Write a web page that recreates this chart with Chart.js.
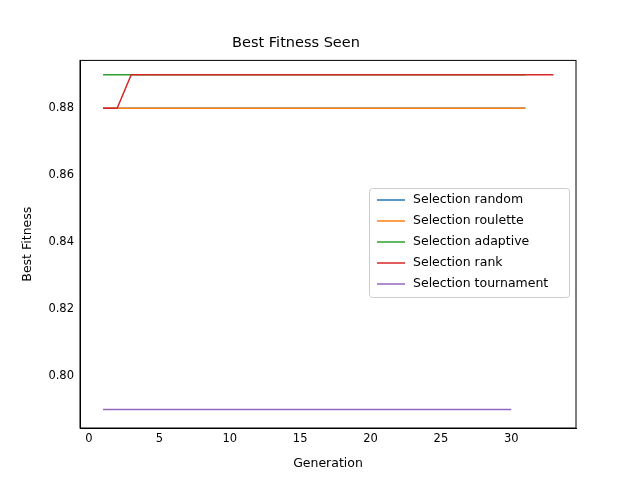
<!DOCTYPE html>
<html><head><meta charset="utf-8">
<script src="https://cdn.jsdelivr.net/npm/chart.js@4"></script>
<style>html,body{margin:0;padding:0;background:#fff}#w{width:640px;height:480px}</style>
</head><body><div id="w"><canvas id="c" width="640" height="480"></canvas></div>
<script>
const seriesNames = ["Selection random","Selection roulette","Selection adaptive","Selection rank","Selection tournament"];
const colors = ["#1f77b4","#ff7f0e","#2ca02c","#d62728","#9467bd"];
const randomVals = Array(31).fill(0.88);
const rouletteVals = Array(31).fill(0.88);
const adaptiveVals = Array(31).fill(0.89);
const rankVals = [0.88,0.88].concat(Array(31).fill(0.89));
const tournamentVals = Array(30).fill(0.79);
const xTicks = [0,5,10,15,20,25,30];
const yTicks = [0.80,0.82,0.84,0.86,0.88];
const all = [randomVals,rouletteVals,adaptiveVals,rankVals,tournamentVals];
const F = "DejaVu Sans";
const legendPlugin = {id:'lg',afterDraw(ch){
  const c=ch.ctx; const x0=369,y0=188,w=200,h=109;
  c.save(); c.fillStyle='rgba(255,255,255,0.8)'; c.strokeStyle='#cccccc'; c.lineWidth=1;
  c.beginPath(); c.roundRect(x0+0.5,y0+0.5,w,h,3); c.fill(); c.stroke();
  c.font='12.5px '+F; c.textBaseline='middle';
  seriesNames.forEach((n,i)=>{const y=y0+12+i*21;
    c.strokeStyle=colors[i]; c.lineWidth=1.5; c.beginPath(); c.moveTo(x0+8,y); c.lineTo(x0+36,y); c.stroke();
    c.fillStyle='#000'; c.fillText(n,x0+44,y);});
  c.restore();}};
new Chart(document.getElementById('c'),{type:'line',
 data:{datasets:all.map((v,i)=>({label:seriesNames[i],order:all.length-i,data:v.map((y,j)=>({x:j+1,y})),borderColor:colors[i],borderWidth:1.5,pointRadius:0,tension:0}))},
 options:{responsive:false,animation:false,
  layout:{padding:{top:0,right:64,left:16,bottom:5}},
  plugins:{legend:{display:false},tooltip:{enabled:false},
   title:{display:true,text:'Best Fitness Seen',color:'#000',font:{family:F,size:14.5,weight:'normal'},padding:{top:35,bottom:8}}},
  scales:{
   x:{type:'linear',min:-0.64,max:34.6,afterBuildTicks(a){a.ticks=xTicks.map(v=>({value:v}));},
     afterFit(a){a.height=47;},
     grid:{display:false,drawTicks:true,tickLength:4,tickColor:'#000'},border:{color:'#000'},
     ticks:{color:'#000',font:{family:F,size:11.5},maxRotation:0,padding:0},
     title:{display:true,text:'Generation',color:'#000',font:{family:F,size:12.5},padding:{top:2}}},
   y:{min:0.7845,max:0.8943,afterBuildTicks(a){a.ticks=yTicks.map(v=>({value:v}));},
     afterFit(a){a.width=64;},
     grid:{display:false,drawTicks:true,tickLength:4,tickColor:'#000'},border:{color:'#000'},
     ticks:{color:'#000',font:{family:F,size:11.5},padding:2,callback:v=>v.toFixed(2)},
     title:{display:true,text:'Best Fitness',color:'#000',font:{family:F,size:12.5},padding:{bottom:4}}}
  }},
 plugins:[legendPlugin,{id:'frame',afterDraw(ch){const a=ch.chartArea,c=ch.ctx;c.save();c.strokeStyle='#000';c.lineWidth=1;c.strokeRect(a.left,a.top,a.right-a.left,a.bottom-a.top);c.restore();}}]
});
</script></body></html>
